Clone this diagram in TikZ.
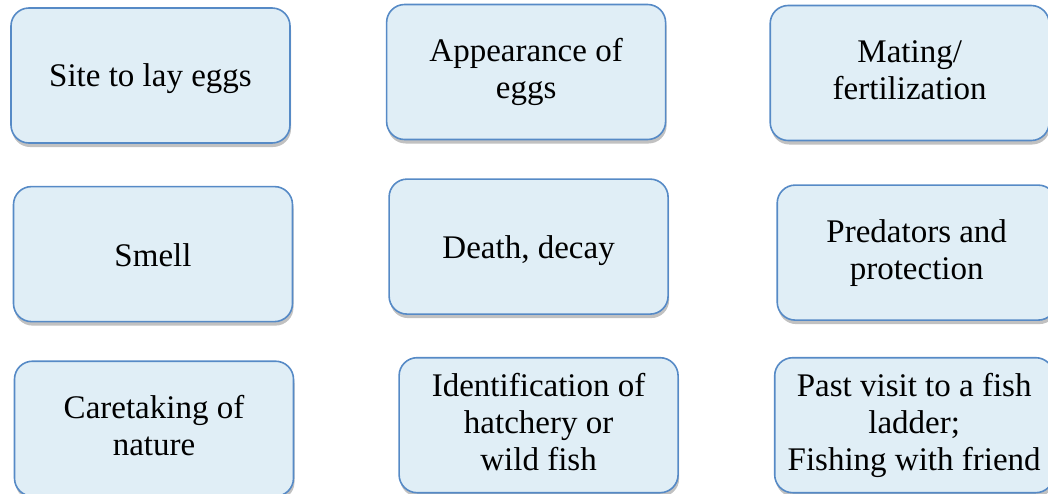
\documentclass[tikz,border=0pt]{standalone}
\usepackage{fontspec}
\setmainfont{Liberation Serif}
\usepackage{tikz}
\usetikzlibrary{positioning,shadows}

\definecolor{boxfill}{RGB}{224,238,246}
\definecolor{boxline}{RGB}{86,138,198}

\begin{document}
\begin{tikzpicture}[
  x=1pt, y=1pt,
  topic/.style={draw=boxline, line width=1.6pt, rounded corners=18pt, fill=boxfill,
    align=center, minimum width=279pt, minimum height=135pt, inner sep=2pt,
    font=\fontsize{33}{37}\selectfont,
    execute at begin node=\rule{0pt}{30pt},
    execute at end node=\rule[-6pt]{0pt}{6pt},
    drop shadow={shadow xshift=1pt, shadow yshift=-4pt, opacity=.35, fill=black!70}}
]
\useasboundingbox (0,0) rectangle (1048,-493);

% first row
\node[topic] (site) at (150.5,-75.5) {Site to lay eggs};
\node[topic, right=95pt of site, yshift=3.5pt] (appear) {Appearance of\\eggs};
\node[topic, right=103pt of appear, yshift=-1pt] (mating) {Mating/\\fertilization};

% second row
\node[topic, below=42pt of site, xshift=2.5pt] (smell) {Smell};
\node[topic, below=38pt of appear, xshift=2.5pt] (death) {Death, decay};
\node[topic, below=43pt of mating, xshift=7pt] (predators) {Predators and\\protection};

% third row
\node[topic, below=38pt of smell, xshift=1pt] (caretaking) {Caretaking of\\nature};
\node[topic, below=42pt of death, xshift=10pt] (hatchery) {Identification of\\hatchery or\\wild fish};
\node[topic, below=36pt of predators, xshift=-2.5pt] (visit) {Past visit to a fish\\ladder;\\Fishing with friend};
\end{tikzpicture}
\end{document}
